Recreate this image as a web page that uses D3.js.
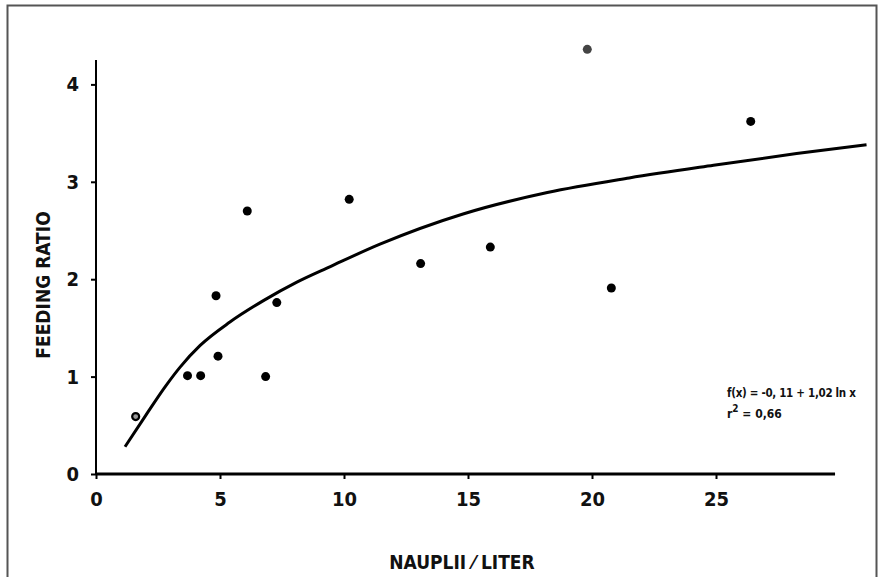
<!DOCTYPE html>
<html>
<head>
<meta charset="utf-8">
<script src="https://cdn.jsdelivr.net/npm/d3@7"></script>
<style>
  body { margin: 0; background: #fff; }
  svg text { font-family: "DejaVu Sans Condensed", "DejaVu Sans", sans-serif; font-stretch: condensed; font-weight: bold; fill: #111; }
</style>
</head>
<body>
<div id="container"></div>
<script>
  // measured points: nauplii per liter vs feeding ratio
  var naupliiX = [1.60, 3.69, 4.22, 4.84, 4.92, 6.10, 6.84, 7.29, 10.21, 13.09, 15.90, 19.81, 20.78, 26.40];
  var feedingY = [0.59, 1.01, 1.01, 1.83, 1.21, 2.70, 1.00, 1.76, 2.82, 2.16, 2.33, 4.36, 1.91, 3.62];
  // fitted curve
  var curveX = [1.17, 2.0, 2.8, 3.4, 4.2, 5.4, 6.75, 8.1, 9.45, 11.45, 14.8, 18.2, 21.5, 24.9, 28.25, 31.07];
  var curveY = [0.28, 0.60, 0.90, 1.10, 1.32, 1.56, 1.78, 1.97, 2.13, 2.36, 2.67, 2.89, 3.04, 3.17, 3.29, 3.38];
  var xTicks = [0, 5, 10, 15, 20, 25];
  var yTicks = [0, 1, 2, 3, 4];

  var W = 878, H = 577;
  var svg = d3.select("#container").append("svg")
      .attr("width", W)
      .attr("height", H);

  // frame of the scanned page
  svg.append("path")
      .attr("d", "M7.5," + H + "V5.5H876.5V" + H)
      .attr("fill", "none")
      .attr("stroke", "#555")
      .attr("stroke-width", 2);

  var xScale = d3.scaleLinear().domain([0, 25]).range([96, 96 + 25 * 24.8]);
  var yScale = d3.scaleLinear().domain([0, 4]).range([474, 474 - 4 * 97.4]);

  var xAxis = d3.axisBottom(xScale).tickValues(xTicks).tickSize(5).tickPadding(13).tickFormat(d3.format("d"));
  var yAxis = d3.axisLeft(yScale).tickValues(yTicks).tickSize(5).tickPadding(12).tickFormat(d3.format("d"));

  var xAxisGroup = svg.append("g")
      .attr("transform", "translate(0," + yScale(0) + ")")
      .call(xAxis);
  xAxisGroup.select(".domain")
      .attr("d", "M" + xScale(0) + ",0H" + xScale(29.8))
      .attr("stroke-width", 3);

  var yAxisGroup = svg.append("g")
      .attr("transform", "translate(" + xScale(0) + ",0)")
      .call(yAxis);
  yAxisGroup.select(".domain")
      .attr("d", "M0," + yScale(0) + "V" + yScale(4.25))
      .attr("stroke-width", 2);

  svg.selectAll(".tick line").attr("stroke-width", 2);
  svg.selectAll(".tick text").style("font-size", "20px").attr("fill", "#111");

  // fitted line
  var line = d3.line()
      .x(function(d, i) { return xScale(curveX[i]); })
      .y(function(d, i) { return yScale(curveY[i]); })
      .curve(d3.curveMonotoneX);
  svg.append("path")
      .datum(curveX)
      .attr("d", line)
      .attr("fill", "none")
      .attr("stroke", "#000")
      .attr("stroke-width", 3);

  svg.selectAll(".dot")
      .data(naupliiX)
      .enter().append("circle")
      .attr("class", "dot")
      .attr("cx", function(d) { return xScale(d); })
      .attr("cy", function(d, i) { return yScale(feedingY[i]); })
      .attr("r", function(d, i) { return i === 0 ? 3.5 : 4.5; })
      .attr("fill", function(d, i) { return i === 0 ? "#999" : (i === 11 ? "#444" : "#000"); })
      .attr("stroke", "#000")
      .attr("stroke-width", function(d, i) { return i === 0 ? 2.2 : 0; });

  svg.append("text")
      .attr("x", 462)
      .attr("y", 569)
      .attr("text-anchor", "middle")
      .style("font-size", "19px")
      .text("NAUPLII  ⁄  LITER");

  svg.append("text")
      .attr("transform", "translate(50,285) rotate(-90)")
      .attr("text-anchor", "middle")
      .style("font-size", "19px")
      .text("FEEDING  RATIO");

  svg.append("text")
      .attr("x", 727)
      .attr("y", 397)
      .style("font-size", "11.5px")
      .style("letter-spacing", "-0.3px")
      .text("f(x) = -0, 11 + 1,02 ln x");

  var r2 = svg.append("text")
      .attr("x", 727)
      .attr("y", 418)
      .style("font-size", "12px");
  r2.append("tspan").text("r");
  r2.append("tspan").attr("dy", -6).style("font-size", "10px").text("2");
  r2.append("tspan").attr("dy", 6).text(" = 0,66");
</script>
</body>
</html>
